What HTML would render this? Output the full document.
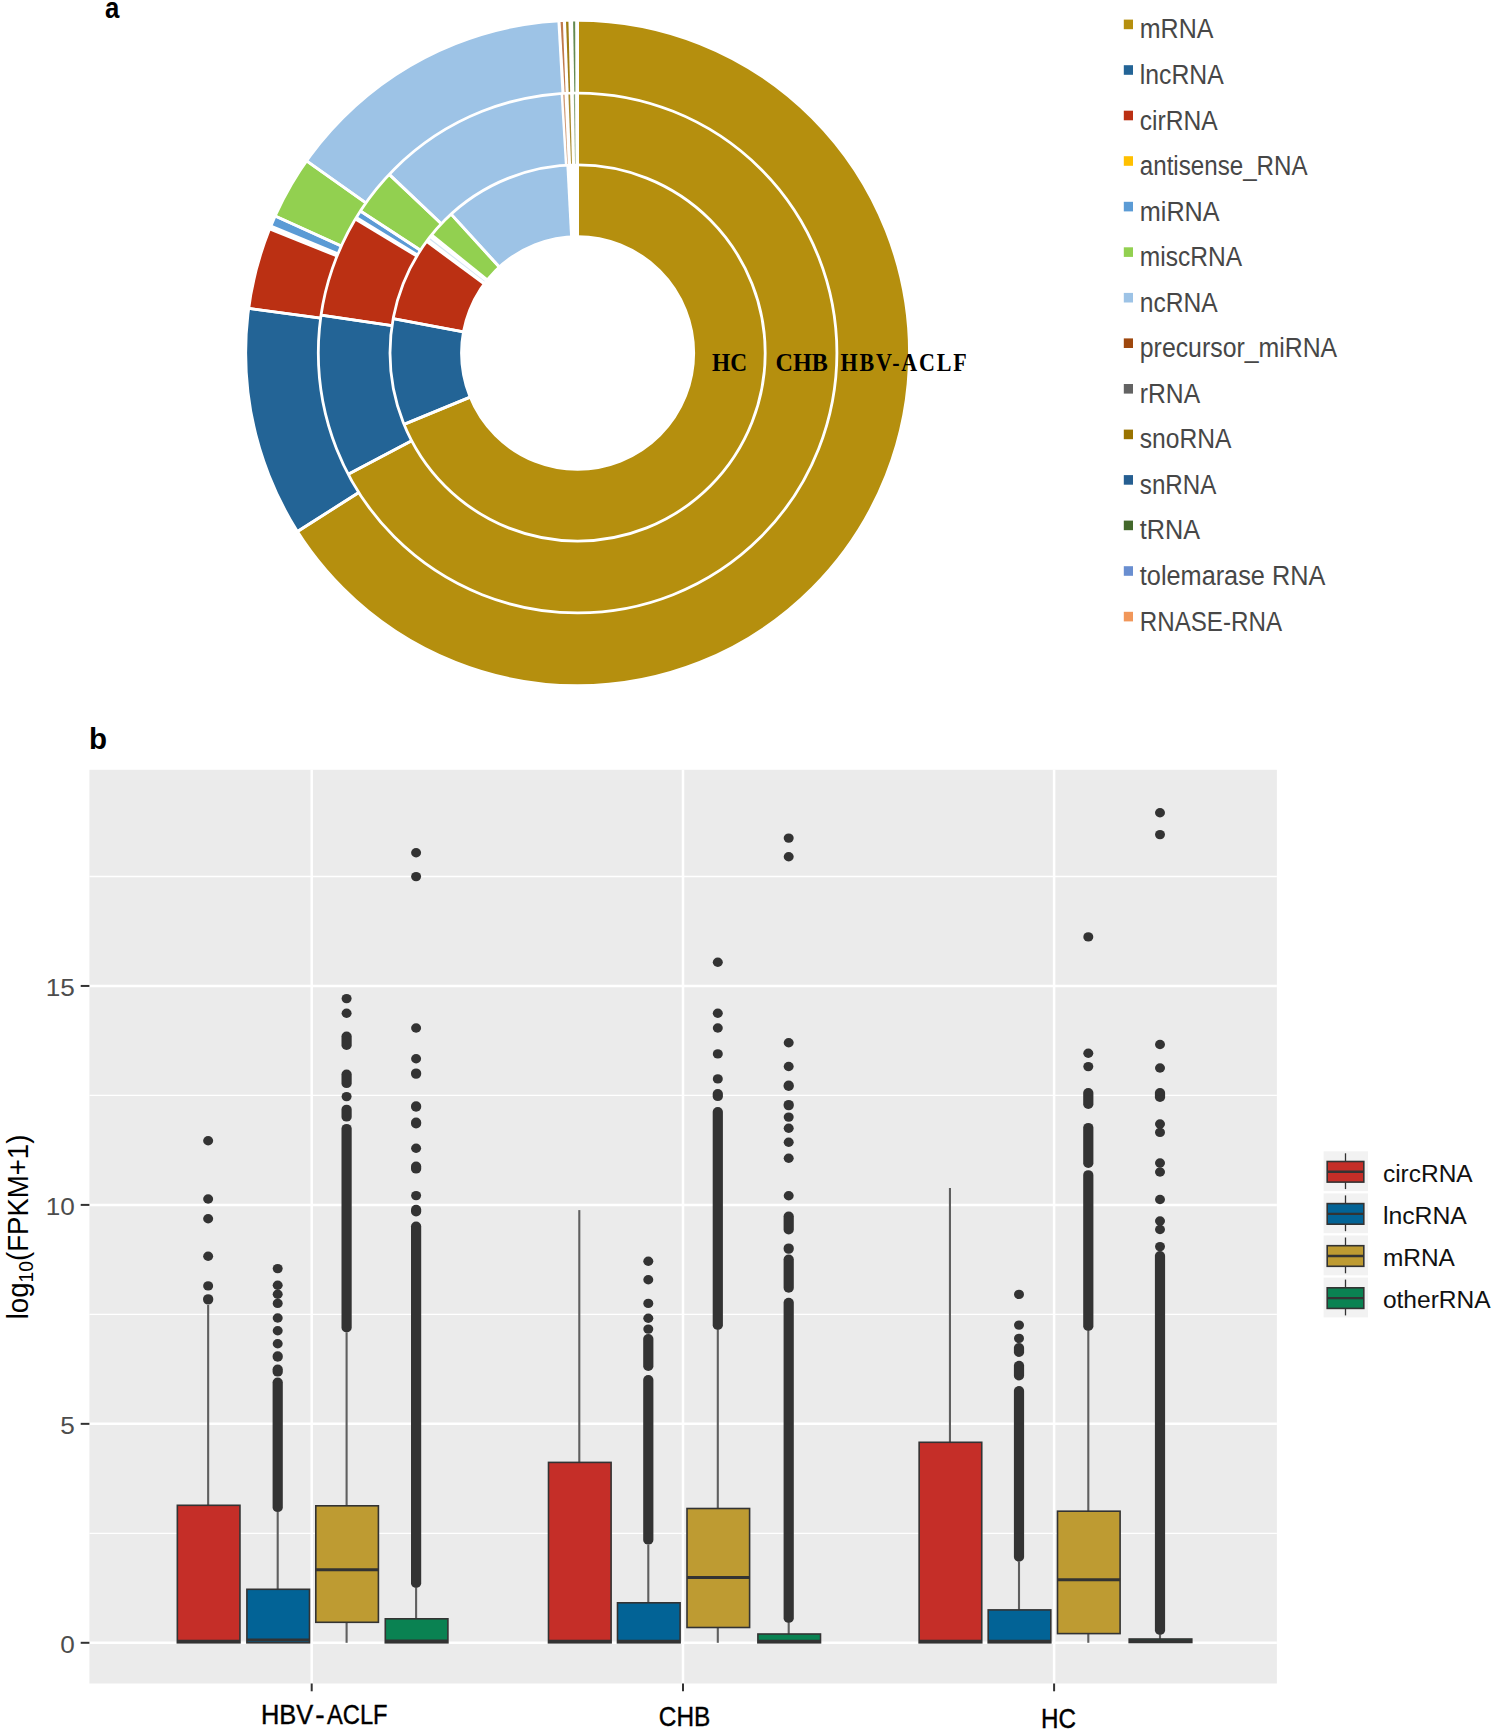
<!DOCTYPE html>
<html><head><meta charset="utf-8"><title>figure</title>
<style>html,body{margin:0;padding:0;background:#fff;}svg{display:block;}text{font-family:"Liberation Sans",sans-serif;}.serif text{font-family:"Liberation Serif",serif;}</style>
</head><body>
<svg width="1495" height="1730" viewBox="0 0 1495 1730">
<rect width="1495" height="1730" fill="#fff"/>
<g id="donut" transform="translate(0,353.0) scale(1,1.0025) translate(0,-353.0)"><path d="M577.60,165.40A187.6,187.6 0 1 1 404.03,424.19L470.18,397.05A116.1,116.1 0 1 0 577.60,236.90Z" fill="#b58f0e"/><path d="M404.03,424.19A187.6,187.6 0 0 1 393.14,318.81L463.44,331.84A116.1,116.1 0 0 0 470.18,397.05Z" fill="#236496"/><path d="M393.14,318.81A187.6,187.6 0 0 1 426.60,241.67L484.15,284.10A116.1,116.1 0 0 0 463.44,331.84Z" fill="#bb3013"/><path d="M431.60,235.19A187.6,187.6 0 0 1 451.10,214.47L499.31,267.27A116.1,116.1 0 0 0 487.25,280.09Z" fill="#92d050"/><path d="M451.10,214.47A187.6,187.6 0 0 1 567.78,165.66L571.52,237.06A116.1,116.1 0 0 0 499.31,267.27Z" fill="#9dc3e6"/><path d="M577.60,93.70A259.3,259.3 0 1 1 348.23,473.93L411.65,440.49A187.6,187.6 0 1 0 577.60,165.40Z" fill="#b58f0e"/><path d="M348.23,473.93A259.3,259.3 0 0 1 321.08,315.12L392.01,325.59A187.6,187.6 0 0 0 411.65,440.49Z" fill="#236496"/><path d="M321.08,315.12A259.3,259.3 0 0 1 355.34,219.45L416.80,256.38A187.6,187.6 0 0 0 392.01,325.59Z" fill="#bb3013"/><path d="M356.27,217.90A259.3,259.3 0 0 1 360.38,211.40L420.44,250.55A187.6,187.6 0 0 0 417.47,255.26Z" fill="#5b9bd5"/><path d="M360.38,211.40A259.3,259.3 0 0 1 389.20,174.84L441.29,224.10A187.6,187.6 0 0 0 420.44,250.55Z" fill="#92d050"/><path d="M389.20,174.84A259.3,259.3 0 0 1 562.00,94.17L566.31,165.74A187.6,187.6 0 0 0 441.29,224.10Z" fill="#9dc3e6"/><path d="M577.60,21.10A331.9,331.9 0 1 1 297.52,531.09L358.79,492.13A259.3,259.3 0 1 0 577.60,93.70Z" fill="#b58f0e"/><path d="M297.52,531.09A331.9,331.9 0 0 1 248.69,308.53L320.64,318.26A259.3,259.3 0 0 0 358.79,492.13Z" fill="#236496"/><path d="M248.69,308.53A331.9,331.9 0 0 1 269.65,229.21L337.01,256.28A259.3,259.3 0 0 0 320.64,318.26Z" fill="#bb3013"/><path d="M270.85,226.26A331.9,331.9 0 0 1 275.11,216.42L341.27,246.29A259.3,259.3 0 0 0 337.95,253.98Z" fill="#5b9bd5"/><path d="M275.11,216.42A331.9,331.9 0 0 1 306.56,161.45L365.84,203.35A259.3,259.3 0 0 0 341.27,246.29Z" fill="#92d050"/><path d="M306.56,161.45A331.9,331.9 0 0 1 558.78,21.63L562.90,94.12A259.3,259.3 0 0 0 365.84,203.35Z" fill="#9dc3e6"/><line x1="577.60" y1="236.90" x2="577.60" y2="165.40" stroke="#fff" stroke-width="2.8"/><line x1="470.18" y1="397.05" x2="404.03" y2="424.19" stroke="#fff" stroke-width="2.8"/><line x1="470.18" y1="397.05" x2="404.03" y2="424.19" stroke="#fff" stroke-width="2.8"/><line x1="463.44" y1="331.84" x2="393.14" y2="318.81" stroke="#fff" stroke-width="2.8"/><line x1="463.44" y1="331.84" x2="393.14" y2="318.81" stroke="#fff" stroke-width="2.8"/><line x1="484.15" y1="284.10" x2="426.60" y2="241.67" stroke="#fff" stroke-width="2.8"/><line x1="487.25" y1="280.09" x2="431.60" y2="235.19" stroke="#fff" stroke-width="2.8"/><line x1="499.31" y1="267.27" x2="451.10" y2="214.47" stroke="#fff" stroke-width="2.8"/><line x1="499.31" y1="267.27" x2="451.10" y2="214.47" stroke="#fff" stroke-width="2.8"/><line x1="571.52" y1="237.06" x2="567.78" y2="165.66" stroke="#fff" stroke-width="2.8"/><line x1="577.60" y1="165.40" x2="577.60" y2="93.70" stroke="#fff" stroke-width="2.8"/><line x1="411.65" y1="440.49" x2="348.23" y2="473.93" stroke="#fff" stroke-width="2.8"/><line x1="411.65" y1="440.49" x2="348.23" y2="473.93" stroke="#fff" stroke-width="2.8"/><line x1="392.01" y1="325.59" x2="321.08" y2="315.12" stroke="#fff" stroke-width="2.8"/><line x1="392.01" y1="325.59" x2="321.08" y2="315.12" stroke="#fff" stroke-width="2.8"/><line x1="416.80" y1="256.38" x2="355.34" y2="219.45" stroke="#fff" stroke-width="2.8"/><line x1="417.47" y1="255.26" x2="356.27" y2="217.90" stroke="#fff" stroke-width="2.8"/><line x1="420.44" y1="250.55" x2="360.38" y2="211.40" stroke="#fff" stroke-width="2.8"/><line x1="420.44" y1="250.55" x2="360.38" y2="211.40" stroke="#fff" stroke-width="2.8"/><line x1="441.29" y1="224.10" x2="389.20" y2="174.84" stroke="#fff" stroke-width="2.8"/><line x1="441.29" y1="224.10" x2="389.20" y2="174.84" stroke="#fff" stroke-width="2.8"/><line x1="566.31" y1="165.74" x2="562.00" y2="94.17" stroke="#fff" stroke-width="2.8"/><line x1="577.60" y1="93.70" x2="577.60" y2="21.10" stroke="#fff" stroke-width="2.8"/><line x1="358.79" y1="492.13" x2="297.52" y2="531.09" stroke="#fff" stroke-width="2.8"/><line x1="358.79" y1="492.13" x2="297.52" y2="531.09" stroke="#fff" stroke-width="2.8"/><line x1="320.64" y1="318.26" x2="248.69" y2="308.53" stroke="#fff" stroke-width="2.8"/><line x1="320.64" y1="318.26" x2="248.69" y2="308.53" stroke="#fff" stroke-width="2.8"/><line x1="337.01" y1="256.28" x2="269.65" y2="229.21" stroke="#fff" stroke-width="2.8"/><line x1="337.95" y1="253.98" x2="270.85" y2="226.26" stroke="#fff" stroke-width="2.8"/><line x1="341.27" y1="246.29" x2="275.11" y2="216.42" stroke="#fff" stroke-width="2.8"/><line x1="341.27" y1="246.29" x2="275.11" y2="216.42" stroke="#fff" stroke-width="2.8"/><line x1="365.84" y1="203.35" x2="306.56" y2="161.45" stroke="#fff" stroke-width="2.8"/><line x1="365.84" y1="203.35" x2="306.56" y2="161.45" stroke="#fff" stroke-width="2.8"/><line x1="562.90" y1="94.12" x2="558.78" y2="21.63" stroke="#fff" stroke-width="2.8"/><circle cx="577.6" cy="353.0" r="116.1" fill="none" stroke="#fff" stroke-width="2.8"/><circle cx="577.6" cy="353.0" r="187.6" fill="none" stroke="#fff" stroke-width="2.8"/><circle cx="577.6" cy="353.0" r="259.3" fill="none" stroke="#fff" stroke-width="2.8"/><circle cx="577.6" cy="353.0" r="331.9" fill="none" stroke="#fff" stroke-width="2.8"/><polygon points="429.57,239.88 430.42,238.78 484.77,281.13 484.40,281.61" fill="#d3e4f3"/><polygon points="563.17,95.40 564.57,95.33 567.80,164.35 567.30,164.38" fill="#cf9a76"/><polygon points="568.42,95.16 570.12,95.11 571.95,164.18 571.05,164.21" fill="#a88a2a"/><polygon points="573.80,95.03 575.10,95.01 575.54,164.11 575.04,164.12" fill="#8aa67c"/><polygon points="560.59,22.84 562.89,22.73 565.55,92.68 564.65,92.72" fill="#c07a4c"/><polygon points="566.02,22.60 568.42,22.53 570.16,92.51 568.66,92.55" fill="#a07d12"/><polygon points="573.09,22.43 575.19,22.41 575.42,92.41 574.32,92.42" fill="#648a52"/></g>
<g font-family="Liberation Serif" class="serif" font-weight="bold" font-size="24.5" fill="#000"><text x="712.0" y="370.9" textLength="35" lengthAdjust="spacingAndGlyphs">HC</text><text x="775.6" y="370.9" textLength="52.3" lengthAdjust="spacingAndGlyphs">CHB</text><text transform="translate(840.6,370.9) scale(0.9,1)" textLength="140.2" lengthAdjust="spacing">HBV-ACLF</text></g>
<g font-family="Liberation Sans" font-size="27" fill="#474747"><rect x="1123.8" y="19.6" width="9.2" height="9.6" fill="#b58f0e"/><text x="1139.8" y="38.4" textLength="73.6" lengthAdjust="spacingAndGlyphs">mRNA</text><rect x="1123.8" y="65.2" width="9.2" height="9.6" fill="#236496"/><text x="1139.8" y="84.0" textLength="84.0" lengthAdjust="spacingAndGlyphs">lncRNA</text><rect x="1123.8" y="110.7" width="9.2" height="9.6" fill="#bb3013"/><text x="1139.8" y="129.5" textLength="78.0" lengthAdjust="spacingAndGlyphs">cirRNA</text><rect x="1123.8" y="156.2" width="9.2" height="9.6" fill="#ffc000"/><text x="1139.8" y="175.0" textLength="167.8" lengthAdjust="spacingAndGlyphs">antisense_RNA</text><rect x="1123.8" y="201.8" width="9.2" height="9.6" fill="#5b9bd5"/><text x="1139.8" y="220.6" textLength="79.8" lengthAdjust="spacingAndGlyphs">miRNA</text><rect x="1123.8" y="247.3" width="9.2" height="9.6" fill="#92d050"/><text x="1139.8" y="266.1" textLength="102.3" lengthAdjust="spacingAndGlyphs">miscRNA</text><rect x="1123.8" y="292.9" width="9.2" height="9.6" fill="#9dc3e6"/><text x="1139.8" y="311.7" textLength="78.0" lengthAdjust="spacingAndGlyphs">ncRNA</text><rect x="1123.8" y="338.4" width="9.2" height="9.6" fill="#9e480e"/><text x="1139.8" y="357.2" textLength="197.4" lengthAdjust="spacingAndGlyphs">precursor_miRNA</text><rect x="1123.8" y="384.0" width="9.2" height="9.6" fill="#636363"/><text x="1139.8" y="402.8" textLength="60.3" lengthAdjust="spacingAndGlyphs">rRNA</text><rect x="1123.8" y="429.6" width="9.2" height="9.6" fill="#997300"/><text x="1139.8" y="448.4" textLength="91.7" lengthAdjust="spacingAndGlyphs">snoRNA</text><rect x="1123.8" y="475.1" width="9.2" height="9.6" fill="#255e91"/><text x="1139.8" y="493.9" textLength="76.6" lengthAdjust="spacingAndGlyphs">snRNA</text><rect x="1123.8" y="520.6" width="9.2" height="9.6" fill="#43682b"/><text x="1139.8" y="539.4" textLength="60.3" lengthAdjust="spacingAndGlyphs">tRNA</text><rect x="1123.8" y="566.2" width="9.2" height="9.6" fill="#698ed0"/><text x="1139.8" y="585.0" textLength="185.5" lengthAdjust="spacingAndGlyphs">tolemarase RNA</text><rect x="1123.8" y="611.8" width="9.2" height="9.6" fill="#f1975a"/><text x="1139.8" y="630.5" textLength="142.2" lengthAdjust="spacingAndGlyphs">RNASE-RNA</text></g>
<text transform="translate(104.9,17.7) scale(0.86,1)" font-family="Liberation Sans" font-weight="bold" font-size="30" fill="#000">a</text>
<text x="89.0" y="749.4" font-family="Liberation Sans" font-weight="bold" font-size="29.5" fill="#000">b</text>
<g id="boxplot"><rect x="89.4" y="769.8" width="1187.5" height="913.7" fill="#ebebeb"/><line x1="89.4" x2="1276.9" y1="1533.33" y2="1533.33" stroke="#fff" stroke-width="1.3"/><line x1="89.4" x2="1276.9" y1="1314.38" y2="1314.38" stroke="#fff" stroke-width="1.3"/><line x1="89.4" x2="1276.9" y1="1095.42" y2="1095.42" stroke="#fff" stroke-width="1.3"/><line x1="89.4" x2="1276.9" y1="876.48" y2="876.48" stroke="#fff" stroke-width="1.3"/><line x1="89.4" x2="1276.9" y1="1642.80" y2="1642.80" stroke="#fff" stroke-width="2.5"/><line x1="89.4" x2="1276.9" y1="1423.85" y2="1423.85" stroke="#fff" stroke-width="2.5"/><line x1="89.4" x2="1276.9" y1="1204.90" y2="1204.90" stroke="#fff" stroke-width="2.5"/><line x1="89.4" x2="1276.9" y1="985.95" y2="985.95" stroke="#fff" stroke-width="2.5"/><line x1="311.7" x2="311.7" y1="769.8" y2="1683.5" stroke="#fff" stroke-width="2.5"/><line x1="683.0" x2="683.0" y1="769.8" y2="1683.5" stroke="#fff" stroke-width="2.5"/><line x1="1054.1" x2="1054.1" y1="769.8" y2="1683.5" stroke="#fff" stroke-width="2.5"/><line x1="208.15" x2="208.15" y1="1305.0" y2="1505.3" stroke="#5f5f5f" stroke-width="2.1"/><ellipse cx="208.15" cy="1140.8" rx="5.0" ry="4.7" fill="#333333"/><ellipse cx="208.15" cy="1199.0" rx="5.0" ry="4.7" fill="#333333"/><ellipse cx="208.15" cy="1218.8" rx="5.0" ry="4.7" fill="#333333"/><ellipse cx="208.15" cy="1256.2" rx="5.0" ry="4.7" fill="#333333"/><ellipse cx="208.15" cy="1285.9" rx="5.0" ry="4.7" fill="#333333"/><rect x="203.05" y="1294.1499999999999" width="10.2" height="10.4" rx="5.1" ry="4.7" fill="#333333"/><rect x="177.35" y="1505.3" width="62.6" height="137.5" fill="#c52e28" stroke="#333333" stroke-width="1.6"/><line x1="177.35" x2="239.95" y1="1641.2" y2="1641.2" stroke="#333333" stroke-width="3"/><line x1="277.70" x2="277.70" y1="1512.0" y2="1589.3" stroke="#5f5f5f" stroke-width="2.1"/><ellipse cx="277.70" cy="1268.6" rx="5.0" ry="4.7" fill="#333333"/><ellipse cx="277.70" cy="1285.3" rx="5.0" ry="4.7" fill="#333333"/><ellipse cx="277.70" cy="1294.3" rx="5.0" ry="4.7" fill="#333333"/><ellipse cx="277.70" cy="1303.4" rx="5.0" ry="4.7" fill="#333333"/><ellipse cx="277.70" cy="1318.0" rx="5.0" ry="4.7" fill="#333333"/><ellipse cx="277.70" cy="1330.8" rx="5.0" ry="4.7" fill="#333333"/><ellipse cx="277.70" cy="1343.7" rx="5.0" ry="4.7" fill="#333333"/><rect x="272.60" y="1351.35" width="10.2" height="10.4" rx="5.1" ry="4.7" fill="#333333"/><rect x="272.60" y="1364.6" width="10.2" height="12.0" rx="5.1" ry="4.7" fill="#333333"/><rect x="272.60" y="1377.6" width="10.2" height="134.5" rx="5.1" ry="4.7" fill="#333333"/><rect x="246.90" y="1589.3" width="62.6" height="53.5" fill="#026396" stroke="#333333" stroke-width="1.6"/><line x1="246.90" x2="309.50" y1="1640.0" y2="1640.0" stroke="#333333" stroke-width="3"/><line x1="346.60" x2="346.60" y1="1332.5" y2="1505.8" stroke="#5f5f5f" stroke-width="2.1"/><line x1="346.60" x2="346.60" y1="1622.3" y2="1642.8" stroke="#5f5f5f" stroke-width="2.1"/><ellipse cx="346.60" cy="998.6" rx="5.0" ry="4.7" fill="#333333"/><ellipse cx="346.60" cy="1013.2" rx="5.0" ry="4.7" fill="#333333"/><ellipse cx="346.60" cy="1096.6" rx="5.0" ry="4.7" fill="#333333"/><rect x="341.50" y="1031.5" width="10.2" height="18.5" rx="5.1" ry="4.7" fill="#333333"/><rect x="341.50" y="1069.6" width="10.2" height="18.5" rx="5.1" ry="4.7" fill="#333333"/><rect x="341.50" y="1104.7" width="10.2" height="16.9" rx="5.1" ry="4.7" fill="#333333"/><rect x="341.50" y="1123.9" width="10.2" height="208.6" rx="5.1" ry="4.7" fill="#333333"/><rect x="315.80" y="1505.8" width="62.6" height="116.5" fill="#be9b32" stroke="#333333" stroke-width="1.6"/><line x1="315.80" x2="378.40" y1="1569.7" y2="1569.7" stroke="#333333" stroke-width="3"/><line x1="416.10" x2="416.10" y1="1588.0" y2="1618.8" stroke="#5f5f5f" stroke-width="2.1"/><ellipse cx="416.10" cy="852.8" rx="5.0" ry="4.7" fill="#333333"/><ellipse cx="416.10" cy="876.6" rx="5.0" ry="4.7" fill="#333333"/><ellipse cx="416.10" cy="1028.0" rx="5.0" ry="4.7" fill="#333333"/><ellipse cx="416.10" cy="1058.7" rx="5.0" ry="4.7" fill="#333333"/><ellipse cx="416.10" cy="1148.2" rx="5.0" ry="4.7" fill="#333333"/><ellipse cx="416.10" cy="1195.6" rx="5.0" ry="4.7" fill="#333333"/><rect x="411.00" y="1068.3999999999999" width="10.2" height="10.4" rx="5.1" ry="4.7" fill="#333333"/><rect x="411.00" y="1101.35" width="10.2" height="10.4" rx="5.1" ry="4.7" fill="#333333"/><rect x="411.00" y="1117.6" width="10.2" height="10.9" rx="5.1" ry="4.7" fill="#333333"/><rect x="411.00" y="1161.6" width="10.2" height="12.0" rx="5.1" ry="4.7" fill="#333333"/><rect x="411.00" y="1204.8" width="10.2" height="11.6" rx="5.1" ry="4.7" fill="#333333"/><rect x="411.00" y="1221.5" width="10.2" height="366.5" rx="5.1" ry="4.7" fill="#333333"/><rect x="385.30" y="1618.8" width="62.6" height="24.0" fill="#0a8252" stroke="#333333" stroke-width="1.6"/><line x1="385.30" x2="447.90" y1="1641.0" y2="1641.0" stroke="#333333" stroke-width="3"/><line x1="579.30" x2="579.30" y1="1210.1" y2="1462.4" stroke="#5f5f5f" stroke-width="2.1"/><rect x="548.50" y="1462.4" width="62.6" height="180.4" fill="#c52e28" stroke="#333333" stroke-width="1.6"/><line x1="548.50" x2="611.10" y1="1641.2" y2="1641.2" stroke="#333333" stroke-width="3"/><line x1="648.30" x2="648.30" y1="1544.6" y2="1602.8" stroke="#5f5f5f" stroke-width="2.1"/><ellipse cx="648.30" cy="1261.2" rx="5.0" ry="4.7" fill="#333333"/><ellipse cx="648.30" cy="1279.7" rx="5.0" ry="4.7" fill="#333333"/><ellipse cx="648.30" cy="1303.4" rx="5.0" ry="4.7" fill="#333333"/><ellipse cx="648.30" cy="1318.2" rx="5.0" ry="4.7" fill="#333333"/><ellipse cx="648.30" cy="1329.1" rx="5.0" ry="4.7" fill="#333333"/><rect x="643.20" y="1334.0" width="10.2" height="37.0" rx="5.1" ry="4.7" fill="#333333"/><rect x="643.20" y="1375.0" width="10.2" height="169.6" rx="5.1" ry="4.7" fill="#333333"/><rect x="617.50" y="1602.8" width="62.6" height="40.0" fill="#026396" stroke="#333333" stroke-width="1.6"/><line x1="617.50" x2="680.10" y1="1641.2" y2="1641.2" stroke="#333333" stroke-width="3"/><line x1="717.80" x2="717.80" y1="1329.9" y2="1508.5" stroke="#5f5f5f" stroke-width="2.1"/><line x1="717.80" x2="717.80" y1="1627.5" y2="1642.8" stroke="#5f5f5f" stroke-width="2.1"/><ellipse cx="717.80" cy="962.2" rx="5.0" ry="4.7" fill="#333333"/><ellipse cx="717.80" cy="1013.3" rx="5.0" ry="4.7" fill="#333333"/><ellipse cx="717.80" cy="1028.0" rx="5.0" ry="4.7" fill="#333333"/><ellipse cx="717.80" cy="1053.9" rx="5.0" ry="4.7" fill="#333333"/><ellipse cx="717.80" cy="1078.9" rx="5.0" ry="4.7" fill="#333333"/><rect x="712.70" y="1089.0" width="10.2" height="12.1" rx="5.1" ry="4.7" fill="#333333"/><rect x="712.70" y="1107.1" width="10.2" height="222.8" rx="5.1" ry="4.7" fill="#333333"/><rect x="687.00" y="1508.5" width="62.6" height="119.0" fill="#be9b32" stroke="#333333" stroke-width="1.6"/><line x1="687.00" x2="749.60" y1="1577.4" y2="1577.4" stroke="#333333" stroke-width="3"/><line x1="788.70" x2="788.70" y1="1622.9" y2="1634.0" stroke="#5f5f5f" stroke-width="2.1"/><ellipse cx="788.70" cy="838.1" rx="5.0" ry="4.7" fill="#333333"/><ellipse cx="788.70" cy="856.8" rx="5.0" ry="4.7" fill="#333333"/><ellipse cx="788.70" cy="1042.8" rx="5.0" ry="4.7" fill="#333333"/><ellipse cx="788.70" cy="1066.5" rx="5.0" ry="4.7" fill="#333333"/><ellipse cx="788.70" cy="1117.1" rx="5.0" ry="4.7" fill="#333333"/><ellipse cx="788.70" cy="1128.2" rx="5.0" ry="4.7" fill="#333333"/><ellipse cx="788.70" cy="1142.2" rx="5.0" ry="4.7" fill="#333333"/><ellipse cx="788.70" cy="1158.3" rx="5.0" ry="4.7" fill="#333333"/><ellipse cx="788.70" cy="1195.8" rx="5.0" ry="4.7" fill="#333333"/><rect x="783.60" y="1080.55" width="10.2" height="10.4" rx="5.1" ry="4.7" fill="#333333"/><rect x="783.60" y="1099.8999999999999" width="10.2" height="10.4" rx="5.1" ry="4.7" fill="#333333"/><rect x="783.60" y="1211.5" width="10.2" height="23.0" rx="5.1" ry="4.7" fill="#333333"/><rect x="783.60" y="1243.3999999999999" width="10.2" height="10.4" rx="5.1" ry="4.7" fill="#333333"/><rect x="783.60" y="1254.6" width="10.2" height="38.1" rx="5.1" ry="4.7" fill="#333333"/><rect x="783.60" y="1297.8" width="10.2" height="325.1" rx="5.1" ry="4.7" fill="#333333"/><rect x="757.90" y="1634.0" width="62.6" height="8.8" fill="#0a8252" stroke="#333333" stroke-width="1.6"/><line x1="757.90" x2="820.50" y1="1641.3" y2="1641.3" stroke="#333333" stroke-width="3"/><line x1="949.95" x2="949.95" y1="1188.0" y2="1442.3" stroke="#5f5f5f" stroke-width="2.1"/><rect x="919.15" y="1442.3" width="62.6" height="200.5" fill="#c52e28" stroke="#333333" stroke-width="1.6"/><line x1="919.15" x2="981.75" y1="1641.2" y2="1641.2" stroke="#333333" stroke-width="3"/><line x1="1019.00" x2="1019.00" y1="1561.7" y2="1609.9" stroke="#5f5f5f" stroke-width="2.1"/><ellipse cx="1019.00" cy="1294.4" rx="5.0" ry="4.7" fill="#333333"/><ellipse cx="1019.00" cy="1325.1" rx="5.0" ry="4.7" fill="#333333"/><ellipse cx="1019.00" cy="1338.4" rx="5.0" ry="4.7" fill="#333333"/><rect x="1013.90" y="1343.0" width="10.2" height="14.0" rx="5.1" ry="4.7" fill="#333333"/><rect x="1013.90" y="1360.8" width="10.2" height="19.7" rx="5.1" ry="4.7" fill="#333333"/><rect x="1013.90" y="1386.1" width="10.2" height="175.6" rx="5.1" ry="4.7" fill="#333333"/><rect x="988.20" y="1609.9" width="62.6" height="32.9" fill="#026396" stroke="#333333" stroke-width="1.6"/><line x1="988.20" x2="1050.80" y1="1641.2" y2="1641.2" stroke="#333333" stroke-width="3"/><line x1="1088.30" x2="1088.30" y1="1330.9" y2="1511.2" stroke="#5f5f5f" stroke-width="2.1"/><line x1="1088.30" x2="1088.30" y1="1633.6" y2="1642.8" stroke="#5f5f5f" stroke-width="2.1"/><ellipse cx="1088.30" cy="936.9" rx="5.0" ry="4.7" fill="#333333"/><ellipse cx="1088.30" cy="1053.3" rx="5.0" ry="4.7" fill="#333333"/><ellipse cx="1088.30" cy="1066.6" rx="5.0" ry="4.7" fill="#333333"/><rect x="1083.20" y="1088.0" width="10.2" height="21.0" rx="5.1" ry="4.7" fill="#333333"/><rect x="1083.20" y="1122.9" width="10.2" height="45.1" rx="5.1" ry="4.7" fill="#333333"/><rect x="1083.20" y="1170.2" width="10.2" height="160.7" rx="5.1" ry="4.7" fill="#333333"/><rect x="1057.50" y="1511.2" width="62.6" height="122.4" fill="#be9b32" stroke="#333333" stroke-width="1.6"/><line x1="1057.50" x2="1120.10" y1="1579.8" y2="1579.8" stroke="#333333" stroke-width="3"/><line x1="1160.00" x2="1160.00" y1="1635.0" y2="1639.0" stroke="#5f5f5f" stroke-width="2.1"/><ellipse cx="1160.00" cy="812.7" rx="5.0" ry="4.7" fill="#333333"/><ellipse cx="1160.00" cy="834.6" rx="5.0" ry="4.7" fill="#333333"/><ellipse cx="1160.00" cy="1044.5" rx="5.0" ry="4.7" fill="#333333"/><ellipse cx="1160.00" cy="1068.0" rx="5.0" ry="4.7" fill="#333333"/><ellipse cx="1160.00" cy="1124.0" rx="5.0" ry="4.7" fill="#333333"/><ellipse cx="1160.00" cy="1132.4" rx="5.0" ry="4.7" fill="#333333"/><ellipse cx="1160.00" cy="1163.0" rx="5.0" ry="4.7" fill="#333333"/><ellipse cx="1160.00" cy="1172.0" rx="5.0" ry="4.7" fill="#333333"/><ellipse cx="1160.00" cy="1199.5" rx="5.0" ry="4.7" fill="#333333"/><ellipse cx="1160.00" cy="1221.0" rx="5.0" ry="4.7" fill="#333333"/><ellipse cx="1160.00" cy="1229.5" rx="5.0" ry="4.7" fill="#333333"/><ellipse cx="1160.00" cy="1246.6" rx="5.0" ry="4.7" fill="#333333"/><rect x="1154.90" y="1088.0" width="10.2" height="14.0" rx="5.1" ry="4.7" fill="#333333"/><rect x="1154.90" y="1251.0" width="10.2" height="384.0" rx="5.1" ry="4.7" fill="#333333"/><rect x="1129.20" y="1639.0" width="62.6" height="3.5" fill="#0a8252" stroke="#333333" stroke-width="1.6"/><line x1="1129.20" x2="1191.80" y1="1641.0" y2="1641.0" stroke="#333333" stroke-width="3"/><line x1="80.7" x2="89.4" y1="1642.80" y2="1642.80" stroke="#333" stroke-width="2"/><line x1="80.7" x2="89.4" y1="1423.85" y2="1423.85" stroke="#333" stroke-width="2"/><line x1="80.7" x2="89.4" y1="1204.90" y2="1204.90" stroke="#333" stroke-width="2"/><line x1="80.7" x2="89.4" y1="985.95" y2="985.95" stroke="#333" stroke-width="2"/><line x1="311.7" x2="311.7" y1="1683.5" y2="1691.3" stroke="#333" stroke-width="2"/><line x1="683.0" x2="683.0" y1="1683.5" y2="1691.3" stroke="#333" stroke-width="2"/><line x1="1054.1" x2="1054.1" y1="1683.5" y2="1691.3" stroke="#333" stroke-width="2"/><g font-family="Liberation Sans" font-size="24" fill="#4d4d4d" text-anchor="end"><text transform="translate(74.9,1653.1) scale(1.09,1)">0</text><text transform="translate(74.9,1434.1) scale(1.09,1)">5</text><text transform="translate(74.9,1215.2) scale(1.09,1)">10</text><text transform="translate(74.9,996.2) scale(1.09,1)">15</text></g><g font-family="Liberation Sans" font-size="27.6" fill="#000" stroke="#000" stroke-width="0.4"><text x="260.9" y="1724.1" textLength="52.3" lengthAdjust="spacingAndGlyphs">HBV</text><text x="315.2" y="1724.1" textLength="9.4" lengthAdjust="spacingAndGlyphs">-</text><text x="327.0" y="1724.1" textLength="60.6" lengthAdjust="spacingAndGlyphs">ACLF</text><text x="658.8" y="1725.5" textLength="51.5" lengthAdjust="spacingAndGlyphs">CHB</text><text x="1041.0" y="1728.4" textLength="35" lengthAdjust="spacingAndGlyphs">HC</text></g><text transform="translate(27.9,1319.3) rotate(-90)" font-family="Liberation Sans" font-size="30" fill="#000" textLength="184.7" lengthAdjust="spacingAndGlyphs">log<tspan font-size="21" dy="5">10</tspan><tspan dy="-5">(FPKM+1)</tspan></text><rect x="1323.6" y="1151.3" width="44.4" height="39.8" fill="#f2f2f2"/><line x1="1345.5" x2="1345.5" y1="1153.3" y2="1189.1" stroke="#333333" stroke-width="1.3"/><rect x="1327.2" y="1161.5" width="36.6" height="20.6" fill="#c52e28" stroke="#333333" stroke-width="1.6"/><line x1="1327.2" x2="1363.8" y1="1171.8" y2="1171.8" stroke="#333333" stroke-width="2.4"/><rect x="1323.6" y="1193.4" width="44.4" height="39.8" fill="#f2f2f2"/><line x1="1345.5" x2="1345.5" y1="1195.4" y2="1231.2" stroke="#333333" stroke-width="1.3"/><rect x="1327.2" y="1203.6" width="36.6" height="20.6" fill="#026396" stroke="#333333" stroke-width="1.6"/><line x1="1327.2" x2="1363.8" y1="1213.9" y2="1213.9" stroke="#333333" stroke-width="2.4"/><rect x="1323.6" y="1235.5" width="44.4" height="39.8" fill="#f2f2f2"/><line x1="1345.5" x2="1345.5" y1="1237.5" y2="1273.3" stroke="#333333" stroke-width="1.3"/><rect x="1327.2" y="1245.7" width="36.6" height="20.6" fill="#be9b32" stroke="#333333" stroke-width="1.6"/><line x1="1327.2" x2="1363.8" y1="1256.0" y2="1256.0" stroke="#333333" stroke-width="2.4"/><rect x="1323.6" y="1277.6" width="44.4" height="39.8" fill="#f2f2f2"/><line x1="1345.5" x2="1345.5" y1="1279.6" y2="1315.4" stroke="#333333" stroke-width="1.3"/><rect x="1327.2" y="1287.8" width="36.6" height="20.6" fill="#0a8252" stroke="#333333" stroke-width="1.6"/><line x1="1327.2" x2="1363.8" y1="1298.1" y2="1298.1" stroke="#333333" stroke-width="2.4"/><g font-family="Liberation Sans" font-size="23.5" fill="#111"><text x="1382.9" y="1182.1" textLength="89.8" lengthAdjust="spacingAndGlyphs">circRNA</text><text x="1382.9" y="1224.2" textLength="84.0" lengthAdjust="spacingAndGlyphs">lncRNA</text><text x="1382.9" y="1266.3" textLength="72.0" lengthAdjust="spacingAndGlyphs">mRNA</text><text x="1382.9" y="1308.4" textLength="107.8" lengthAdjust="spacingAndGlyphs">otherRNA</text></g></g>
</svg>
</body></html>
